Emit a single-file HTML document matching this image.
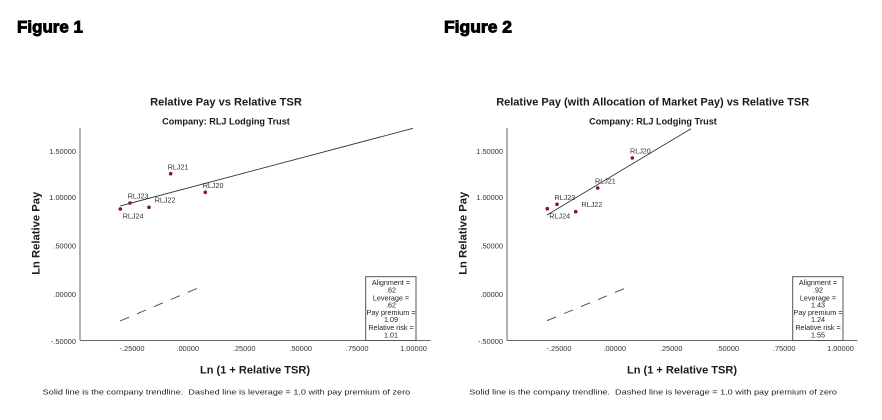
<!DOCTYPE html>
<html>
<head>
<meta charset="utf-8">
<style>
  html, body { margin:0; padding:0; background:#fff; }
  svg { display:block; }
  text { font-family: "Liberation Sans", Arial, sans-serif; }
  .fig { font-size:17px; font-weight:bold; fill:#000; stroke:#000; stroke-width:0.9px; }
  .title { font-size:11px; font-weight:bold; fill:#1a1a1a; }
  .sub { font-size:9px; font-weight:bold; fill:#1a1a1a; }
  .axt { font-size:11px; font-weight:bold; fill:#1a1a1a; }
  .tick { font-size:7.4px; fill:#333; }
  .lbl { font-size:7.2px; fill:#333; }
  .leg { font-size:7.2px; fill:#222; }
  .foot { font-size:7.5px; fill:#222; }
</style>
</head>
<body>
<svg width="882" height="420" viewBox="0 0 882 420" xmlns="http://www.w3.org/2000/svg">
  <rect width="882" height="420" fill="#fff"/>

  <!-- ===== FIGURE 1 ===== -->
  <g>
    <text class="fig" x="17" y="32.7" textLength="66" lengthAdjust="spacingAndGlyphs">Figure 1</text>
    <text class="title" x="226" y="105.7" text-anchor="middle" textLength="151.7" lengthAdjust="spacingAndGlyphs">Relative Pay vs Relative TSR</text>
    <text class="sub" x="226" y="124.3" text-anchor="middle" textLength="127.7" lengthAdjust="spacingAndGlyphs">Company: RLJ Lodging Trust</text>

    <line x1="80" y1="128" x2="80" y2="340.5" stroke="#666" stroke-width="1"/>
    <line x1="80" y1="340.5" x2="430.5" y2="340.5" stroke="#666" stroke-width="1"/>

    <text class="tick" x="76" y="153.8" text-anchor="end">1.50000</text>
    <text class="tick" x="76" y="200" text-anchor="end">1.00000</text>
    <text class="tick" x="76" y="248.7" text-anchor="end">.50000</text>
    <text class="tick" x="76" y="296.8" text-anchor="end">.00000</text>
    <text class="tick" x="76" y="343.8" text-anchor="end">-.50000</text>

    <text class="tick" x="132" y="351" text-anchor="middle">-.25000</text>
    <text class="tick" x="187.7" y="351" text-anchor="middle">.00000</text>
    <text class="tick" x="244.2" y="351" text-anchor="middle">.25000</text>
    <text class="tick" x="300.7" y="351" text-anchor="middle">.50000</text>
    <text class="tick" x="357.2" y="351" text-anchor="middle">.75000</text>
    <text class="tick" x="413.5" y="351" text-anchor="middle">1.00000</text>

    <text class="axt" x="255" y="373.3" text-anchor="middle" textLength="110" lengthAdjust="spacingAndGlyphs">Ln (1 + Relative TSR)</text>
    <text class="axt" transform="translate(39.5,233.3) rotate(-90)" x="0" y="0" text-anchor="middle" textLength="83" lengthAdjust="spacingAndGlyphs">Ln Relative Pay</text>

    <line x1="120" y1="206" x2="413" y2="128.3" stroke="#333" stroke-width="0.9"/>
    <line x1="120" y1="321" x2="197.3" y2="288.3" stroke="#444" stroke-width="0.9" stroke-dasharray="9.8 8.6"/>

    <g fill="#7a1c1c">
      <circle cx="120.3" cy="209" r="1.8"/>
      <circle cx="130" cy="203" r="1.8"/>
      <circle cx="149" cy="207.3" r="1.8"/>
      <circle cx="170.7" cy="173.7" r="1.8"/>
      <circle cx="205.3" cy="192.3" r="1.8"/>
    </g>
    <text class="lbl" x="167.7" y="169.3">RLJ21</text>
    <text class="lbl" x="202.7" y="187.9">RLJ20</text>
    <text class="lbl" x="127.7" y="198.6">RLJ23</text>
    <text class="lbl" x="154.7" y="202.6">RLJ22</text>
    <text class="lbl" x="122.7" y="218.3">RLJ24</text>

    <rect x="365.7" y="276.7" width="50.3" height="63.8" fill="#fff" stroke="#555" stroke-width="1"/>
    <g class="leg" text-anchor="middle">
      <text x="391" y="284.9">Alignment =</text>
      <text x="391" y="292.6">.62</text>
      <text x="391" y="300.3">Leverage =</text>
      <text x="391" y="307.6">.62</text>
      <text x="391" y="314.9" textLength="49" lengthAdjust="spacingAndGlyphs">Pay premium =</text>
      <text x="391" y="321.9">1.09</text>
      <text x="391" y="329.9">Relative risk =</text>
      <text x="391" y="337.6">1.01</text>
    </g>

    <text class="foot" x="42.7" y="394.5" textLength="367.5" lengthAdjust="spacingAndGlyphs">Solid line is the company trendline.&#160; Dashed line is leverage = 1.0 with pay premium of zero</text>
  </g>

  <!-- ===== FIGURE 2 ===== -->
  <g transform="translate(427,0)">
    <text class="fig" x="17" y="32.7" textLength="68" lengthAdjust="spacingAndGlyphs">Figure 2</text>
    <text class="title" x="225.7" y="105.7" text-anchor="middle" textLength="313" lengthAdjust="spacingAndGlyphs">Relative Pay (with Allocation of Market Pay) vs Relative TSR</text>
    <text class="sub" x="226" y="124.3" text-anchor="middle" textLength="127.7" lengthAdjust="spacingAndGlyphs">Company: RLJ Lodging Trust</text>

    <line x1="80" y1="128" x2="80" y2="340.5" stroke="#666" stroke-width="1"/>
    <line x1="80" y1="340.5" x2="430.5" y2="340.5" stroke="#666" stroke-width="1"/>

    <text class="tick" x="76" y="153.8" text-anchor="end">1.50000</text>
    <text class="tick" x="76" y="200" text-anchor="end">1.00000</text>
    <text class="tick" x="76" y="248.7" text-anchor="end">.50000</text>
    <text class="tick" x="76" y="296.8" text-anchor="end">.00000</text>
    <text class="tick" x="76" y="343.8" text-anchor="end">-.50000</text>

    <text class="tick" x="132" y="351" text-anchor="middle">-.25000</text>
    <text class="tick" x="187.7" y="351" text-anchor="middle">.00000</text>
    <text class="tick" x="244.2" y="351" text-anchor="middle">.25000</text>
    <text class="tick" x="300.7" y="351" text-anchor="middle">.50000</text>
    <text class="tick" x="357.2" y="351" text-anchor="middle">.75000</text>
    <text class="tick" x="413.5" y="351" text-anchor="middle">1.00000</text>

    <text class="axt" x="255" y="373.3" text-anchor="middle" textLength="110" lengthAdjust="spacingAndGlyphs">Ln (1 + Relative TSR)</text>
    <text class="axt" transform="translate(39.5,233.3) rotate(-90)" x="0" y="0" text-anchor="middle" textLength="83" lengthAdjust="spacingAndGlyphs">Ln Relative Pay</text>

    <line x1="120" y1="215" x2="264" y2="128.7" stroke="#333" stroke-width="0.9"/>
    <line x1="120" y1="320.7" x2="198" y2="288.3" stroke="#444" stroke-width="0.9" stroke-dasharray="9.8 8.6"/>

    <g fill="#7a1c1c">
      <circle cx="120.3" cy="208.7" r="1.8"/>
      <circle cx="130" cy="204.3" r="1.8"/>
      <circle cx="148.7" cy="211.7" r="1.8"/>
      <circle cx="170.7" cy="188" r="1.8"/>
      <circle cx="205.3" cy="158" r="1.8"/>
    </g>
    <text class="lbl" x="203" y="153.5">RLJ20</text>
    <text class="lbl" x="168" y="183.6">RLJ21</text>
    <text class="lbl" x="127.5" y="199.8">RLJ23</text>
    <text class="lbl" x="154.5" y="207">RLJ22</text>
    <text class="lbl" x="122.3" y="218.3">RLJ24</text>

    <rect x="365.7" y="276.7" width="50.3" height="63.8" fill="#fff" stroke="#555" stroke-width="1"/>
    <g class="leg" text-anchor="middle">
      <text x="391" y="284.9">Alignment =</text>
      <text x="391" y="292.6">.92</text>
      <text x="391" y="300.3">Leverage =</text>
      <text x="391" y="307.6">1.43</text>
      <text x="391" y="314.9" textLength="49" lengthAdjust="spacingAndGlyphs">Pay premium =</text>
      <text x="391" y="321.9">1.24</text>
      <text x="391" y="329.9">Relative risk =</text>
      <text x="391" y="337.6">1.55</text>
    </g>

    <text class="foot" x="42.3" y="394.5" textLength="367.7" lengthAdjust="spacingAndGlyphs">Solid line is the company trendline.&#160; Dashed line is leverage = 1.0 with pay premium of zero</text>
  </g>
</svg>
</body>
</html>
